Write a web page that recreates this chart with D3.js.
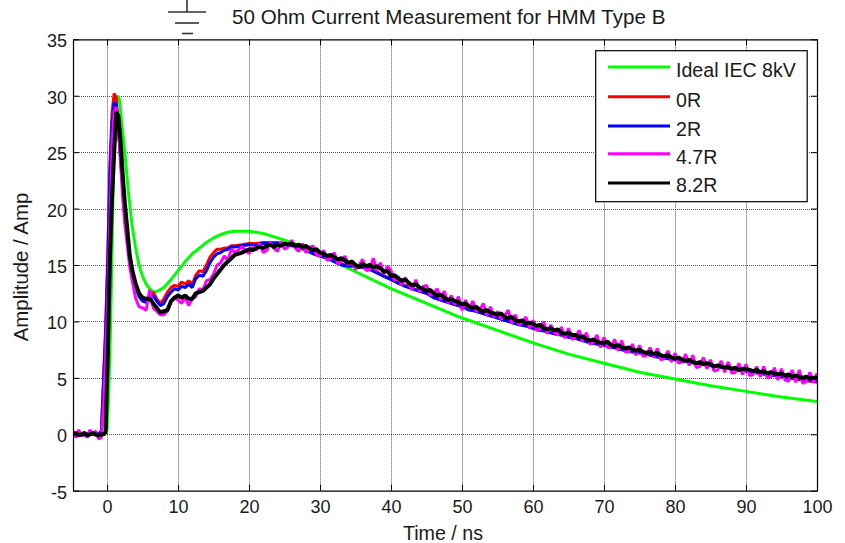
<!DOCTYPE html>
<html><head><meta charset="utf-8">
<script src="https://cdn.jsdelivr.net/npm/d3@7/dist/d3.min.js"></script>
<style>html,body{margin:0;padding:0;background:#fff}svg{display:block}text{font-family:"Liberation Sans",Arial,sans-serif;fill:#1a1a1a}</style>
</head><body><svg id="c" width="845" height="543"></svg>
<script>
const xTicks=[0,10,20,30,40,50,60,70,80,90,100];
const yTicks=[-5,0,5,10,15,20,25,30,35];
const seriesNames=["Ideal IEC 8kV","0R","2R","4.7R","8.2R"];
const seriesColors=["#00ff00","#ff0000","#0000ff","#ff00ff","#000000"];
const idealT=[-4.8,-0.3,0,0.2,0.4,0.6,0.8,1,1.2,1.4,1.6,1.8,2,2.5,3,3.5,4,4.5,5,5.5,6,6.5,7,8,9,10,11,12,13,14,15,16,17,18,20,22,24,26,28,30,35,40,45,50,55,60,65,70,75,80,85,90,95,100];
const idealV=[0,0,0.4,3,7,13,20,25,28.5,29.8,30,29.4,28,25,21.5,18.6,16.6,15,14,13.3,12.9,12.6,12.65,13,13.7,14.5,15.3,16,16.5,17,17.4,17.7,17.9,18,18,17.8,17.4,17,16.5,15.9,14.4,12.9,11.6,10.3,9.2,8.1,7.1,6.3,5.5,4.9,4.3,3.8,3.3,2.9];
const measT=[-4.8,-4.4,-4,-3.6,-3.2,-2.8,-2.4,-2,-1.6,-1.2,-0.8,-0.5,-0.2,0.1,0.4,0.7,1,1.3,1.6,1.9,2.2,2.5,2.8,3.2,3.6,4,4.5,5,5.5,6,6.5,7,7.5,8,8.5,9,9.5,10,10.5,11,11.5,12,12.5,13,13.5,14,14.5,15,15.5,16,16.5,17,17.5,18,19,20,21,22,23,24,25,26,27,28,29,30,31,32,33,34,35,36,37,38,39,40,41,42,43,44,45,46,47,48,49,50,51,52,53,54,55,56,57,58,59,60,61,62,63,64,65,66,67,68,69,70,71,72,73,74,75,76,77,78,79,80,81,82,83,84,85,86,87,88,89,90,91,92,93,94,95,96,97,98,99,100];
const red=[0.1,0,0.1,-0.1,0.1,0,0,0.1,-0.1,0,0.2,5,9.5,16,24,28.5,30.2,29.8,27,24.5,22,20,18,15.8,14.2,13.2,12.3,11.9,11.8,12.2,12.6,12,11.6,12,12.6,13,13.2,13.1,13.5,13.3,13.6,13.3,14.1,14.5,14.4,15,15.7,16.1,16.4,16.4,16.5,16.5,16.7,16.7,16.8,16.9,16.9,17,17,17,16.9,16.8,16.6,16.4,16.1,15.9,15.7,15.4,15.1,15,14.9,14.8,14.6,14.4,14,13.8,13.4,13.2,12.9,12.7,12.5,12.2,11.9,11.7,11.5,11.3,11.1,10.9,10.7,10.5,10.4,10.2,9.9,9.8,9.6,9.4,9.3,9.1,8.9,8.8,8.7,8.5,8.3,8.2,8,7.9,7.8,7.6,7.5,7.4,7.3,7.1,7,6.9,6.8,6.7,6.5,6.4,6.3,6.3,6.1,6,5.9,5.8,5.7,5.6,5.5,5.4,5.3,5.2,5.1,5,4.9,4.8,4.7,4.6,4.6,4.5];
const blue=[0,0.1,0,0,-0.1,0.1,0,0,0.1,0,0.3,4.6,9,15,23,27.5,29.4,29.2,27,24.5,22,19.7,17.6,15.5,14,13,12.2,11.8,11.7,12,12.3,11.8,11.4,11.6,12.2,12.6,12.9,12.8,13.1,13,13.3,13,13.8,14.1,14,14.5,15.2,15.7,16,16.1,16.3,16.4,16.6,16.6,16.7,16.8,16.8,16.9,16.9,16.9,16.8,16.7,16.6,16.3,16,15.8,15.6,15.3,15,14.9,14.9,14.8,14.6,14.3,14,13.7,13.4,13.1,12.9,12.7,12.5,12.1,11.9,11.7,11.5,11.3,11,10.9,10.7,10.5,10.3,10.1,9.9,9.7,9.6,9.4,9.2,9.1,8.9,8.8,8.6,8.5,8.3,8.1,8,7.9,7.7,7.6,7.4,7.3,7.2,7.1,6.9,6.8,6.7,6.6,6.5,6.4,6.3,6.2,6.1,6,5.9,5.8,5.7,5.6,5.5,5.4,5.3,5.2,5.1,5,4.9,4.9,4.8,4.7,4.6];
const fineT=[-4.8,-4.4,-4,-3.6,-3.2,-2.8,-2.4,-2,-1.6,-1.2,
-0.8,-0.5,-0.2,0.1,0.4,0.7,1,1.3,1.6,1.9,
2.2,2.5,2.8,3.2,3.6,4,4.5,5,5.5,6,
6.5,7,7.5,8,8.5,9,9.5,10,10.5,11,
11.5,12,12.5,13,13.5,14,14.5,15,15.5,16,
16.5,17,17.5,18,19,
20,20.5,21,21.5,22,22.5,23,23.5,24,24.5,
25,25.5,26,26.5,27,27.5,28,28.5,29,29.5,
30,30.5,31,31.5,32,32.5,33,33.5,34,34.5,
35,35.5,36,36.5,37,37.5,38,38.5,39,39.5,
40,40.5,41,41.5,42,42.5,43,43.5,44,44.5,
45,45.5,46,46.5,47,47.5,48,48.5,49,49.5,
50,50.5,51,51.5,52,52.5,53,53.5,54,54.5,
55,55.5,56,56.5,57,57.5,58,58.5,59,59.5,
60,60.5,61,61.5,62,62.5,63,63.5,64,64.5,
65,65.5,66,66.5,67,67.5,68,68.5,69,69.5,
70,70.5,71,71.5,72,72.5,73,73.5,74,74.5,
75,75.5,76,76.5,77,77.5,78,78.5,79,79.5,
80,80.5,81,81.5,82,82.5,83,83.5,84,84.5,
85,85.5,86,86.5,87,87.5,88,88.5,89,89.5,
90,90.5,91,91.5,92,92.5,93,93.5,94,94.5,
95,95.5,96,96.5,97,97.5,98,98.5,99,99.5,100];
const magenta=[0.3,-0.3,0.4,-0.2,0.2,-0.3,0.4,-0.1,0.3,-0.4,
-0.3,2.5,7,12,19,25.5,28.6,29,27.6,24,
21,18.6,17,14.8,13.4,12.1,11.3,11.2,11,12.8,
11.2,10.9,10.6,10.6,10.9,11.7,12.1,11.9,11.6,12.2,
11.4,12,12.2,12.9,12.8,13.6,13.7,14.2,15,15.2,
15.8,15.4,16.4,16.1,16.6,
16,16.7,16.3,16.9,16.1,16.3,17,16.5,16.2,17.1,
16.4,16.6,17.2,16.5,16.2,16.9,16.1,16.5,16.7,15.9,
15.8,16.3,15.4,15.6,16.1,15.1,15.3,15.8,15,15.4,
14.6,15,15.5,14.5,14.6,15.6,14.5,15.2,14.2,14.9,
14.5,13.6,14,13.2,13.9,13.3,12.8,13.7,12.6,13.1,
13.2,12.3,12.5,12.9,11.9,12.7,11.6,12.3,11.5,12.2,
11,11.9,11.1,11.8,10.9,11,11.6,10.5,11.3,10.4,
10.9,10.2,10.5,11,9.8,10.6,9.7,9.9,10.4,9.4,
10.1,9.2,9.3,10,8.9,9.7,9,8.8,9.5,8.5,
9.4,8.4,8.6,9.2,8.2,9,8,8.1,8.8,7.7,
8.6,7.7,7.7,8.4,7.4,8.3,7.3,7.3,8,7,
7.9,6.9,7,7.7,6.8,7.6,6.6,6.7,7.4,6.4,
7.2,6.3,6.4,7.1,6.1,7,5.9,6,6.8,5.8,
6.6,5.6,5.7,6.5,5.5,6.4,5.4,5.5,6.3,5.3,
6.2,5.2,5.3,6,5.1,6,5,5.1,5.9,4.8,
5.8,4.8,4.7,5.7,4.6,5.7,4.5,4.7,5.5,4.6,5.4];
const black=[0,0.1,-0.1,0,0.1,-0.1,0,0.1,0,-0.1,
0,0,0.2,7,15.5,21,25,28.6,28.2,26,
23,20.5,18.5,15.8,14.4,13.4,12.5,12.1,12,12,
11.6,11.2,10.8,10.9,11,11.8,12.1,12.3,12.1,12.3,
12,12,12.5,12.6,12.7,13,13.3,13.8,14.2,14.6,
15,15.3,15.6,15.9,16.1,
16.4,16.3,16.5,16.6,16.5,16.7,16.8,16.6,16.8,16.7,
16.9,16.8,16.9,16.7,16.8,16.6,16.7,16.5,16.3,16.4,
16.1,16,15.8,15.9,15.7,15.5,15.6,15.4,15.2,15.3,
15,14.8,15.1,14.9,15,14.8,14.9,14.7,14.4,14.5,
14,14.1,13.8,13.6,13.7,13.4,13.2,13.3,13,12.9,
12.7,12.8,12.5,12.3,12.4,12.1,11.9,12,11.8,11.7,
11.5,11.6,11.3,11.2,11.3,11,10.9,11,10.8,10.7,
10.6,10.7,10.4,10.3,10.4,10.1,10,10.1,9.8,9.9,
9.8,9.6,9.7,9.4,9.3,9.4,9.2,9.3,9,8.9,
9,8.8,8.8,8.6,8.7,8.4,8.3,8.4,8.2,8.1,
8.1,8.2,7.9,7.8,7.9,7.7,7.6,7.7,7.5,7.4,
7.5,7.3,7.2,7.3,7.1,7.2,7,6.9,7,6.8,
6.7,6.8,6.6,6.5,6.6,6.4,6.3,6.4,6.2,6.3,
6.2,6,6.1,6,5.9,6,5.8,5.9,5.7,5.8,
5.8,5.7,5.6,5.7,5.5,5.6,5.4,5.5,5.4,5.3,
5.4,5.2,5.3,5.1,5.2,5.1,5,5.1,4.95,5,5];
const seriesT=[idealT,measT,measT,fineT,fineT];
const seriesV=[idealV,red,blue,magenta,black];

const svg=d3.select("#c");
const L=73,R=817,T=39.3,B=490.7;
const x=d3.scaleLinear().domain([-4.8,100]).range([L,R]);
const y=d3.scaleLinear().domain([-5,35]).range([B,T]);
const grid=svg.append("g").attr("fill","none").attr("stroke","#555").attr("stroke-dasharray","1,1").attr("stroke-width",1);
xTicks.forEach(t=>grid.append("line").attr("x1",Math.round(x(t))+.5).attr("x2",Math.round(x(t))+.5).attr("y1",T).attr("y2",B));
yTicks.slice(1,-1).forEach(t=>grid.append("line").attr("y1",Math.round(y(t))+.5).attr("y2",Math.round(y(t))+.5).attr("x1",L).attr("x2",R));
svg.append("defs").append("clipPath").attr("id","p").append("rect").attr("x",L).attr("y",T).attr("width",R-L).attr("height",B-T);
const line=d3.line().x(d=>x(d[0])).y(d=>y(d[1]));
const plot=svg.append("g").attr("clip-path","url(#p)");
seriesNames.forEach((n,i)=>{
  plot.append("path").datum(seriesT[i].map((t,j)=>[t,seriesV[i][j]])).attr("d",line).attr("fill","none").attr("stroke",seriesColors[i]).attr("stroke-width",i==4?4:3).attr("stroke-linejoin","bevel");
});
function style(g){g.selectAll(".tick line").attr("stroke","#000");g.select(".domain").attr("stroke","#000").attr("stroke-width",1.2);g.selectAll("text").attr("font-size",18).attr("fill","#1a1a1a");}
svg.append("g").attr("transform",`translate(0,${B})`).call(d3.axisBottom(x).tickValues(xTicks).tickSize(-6).tickSizeOuter(0).tickPadding(10).tickFormat(d=>String(d))).call(style);
svg.append("g").attr("transform",`translate(0,${T})`).call(d3.axisTop(x).tickValues(xTicks).tickSize(-6).tickSizeOuter(0).tickFormat("")).call(style);
svg.append("g").attr("transform",`translate(${L},0)`).call(d3.axisLeft(y).tickValues(yTicks).tickSize(-6).tickSizeOuter(0).tickPadding(6).tickFormat(d=>String(d))).call(style).selectAll("text").attr("dy","0.42em");
svg.append("g").attr("transform",`translate(${R},0)`).call(d3.axisRight(y).tickValues(yTicks).tickSize(-6).tickSizeOuter(0).tickFormat("")).call(style);
svg.append("text").attr("x",443).attr("y",539.5).attr("text-anchor","middle").attr("font-size",19.7).text("Time / ns");
svg.append("text").attr("transform","translate(28,267) rotate(-90)").attr("text-anchor","middle").attr("font-size",20.4).text("Amplitude / Amp");
svg.append("text").attr("x",232).attr("y",24).attr("font-size",20.6).text("50 Ohm Current Measurement for HMM Type B");
const g=svg.append("g").attr("stroke","#333").attr("stroke-width",1.6);
g.append("line").attr("x1",187).attr("x2",187).attr("y1",0).attr("y2",12);
g.append("line").attr("x1",168).attr("x2",206).attr("y1",12).attr("y2",12);
g.append("line").attr("x1",175).attr("x2",199).attr("y1",23).attr("y2",23);
g.append("line").attr("x1",182).attr("x2",193).attr("y1",33.5).attr("y2",33.5);
const lg=svg.append("g");
lg.append("rect").attr("x",595.7).attr("y",50.7).attr("width",211.5).attr("height",151).attr("fill","#fff").attr("stroke","#000").attr("stroke-width",1.2);
const rowY=[67,96.7,126,153.7,183];
const textY=[77,106.5,135.5,163.5,192];
seriesNames.forEach((n,i)=>{
  lg.append("line").attr("x1",608).attr("x2",670).attr("y1",rowY[i]).attr("y2",rowY[i]).attr("stroke",seriesColors[i]).attr("stroke-width",3);
  lg.append("text").attr("x",676).attr("y",textY[i]).attr("font-size",19.6).text(n);
});
</script></body></html>
